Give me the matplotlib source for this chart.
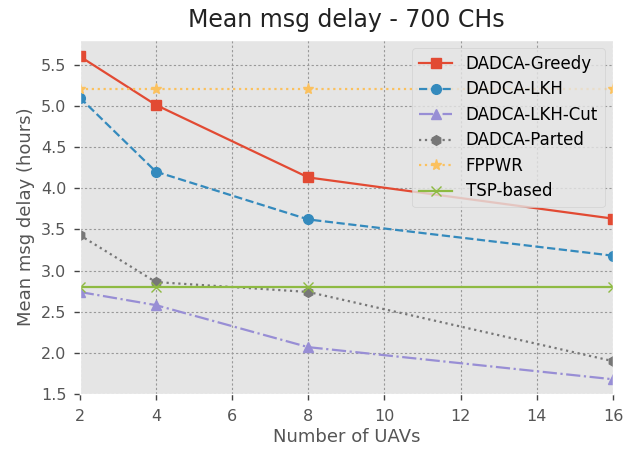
import numpy as np
import matplotlib
matplotlib.use('Agg')
import matplotlib.pyplot as plt

plt.style.use('ggplot')

# UAV counts
uavs = [2, 4, 8, 16]

# mean msg delay (hours)
greedy = [5.6, 5.01, 4.13, 3.63]
lkh = [5.1, 4.2, 3.62, 3.18]
lkh_cut = [2.74, 2.58, 2.07, 1.68]
parted = [3.43, 2.86, 2.74, 1.9]
fppwr = [5.2, 5.2, 5.2, 5.2]
tsp = [2.8, 2.8, 2.8, 2.8]

fig, ax = plt.subplots(figsize=(6.23, 4.53), dpi=100)

ax.plot(uavs, greedy, color='#E24A33', linestyle='-', marker='s', lw=1.6, ms=7, label='DADCA-Greedy')
ax.plot(uavs, lkh, color='#348ABD', linestyle='--', marker='o', lw=1.6, ms=7, label='DADCA-LKH')
ax.plot(uavs, lkh_cut, color='#988ED5', linestyle='-.', marker='^', lw=1.6, ms=7, label='DADCA-LKH-Cut')
ax.plot(uavs, parted, color='#777777', linestyle=':', marker='h', lw=1.6, ms=7, label='DADCA-Parted')
ax.plot(uavs, fppwr, color='#FBC15E', linestyle=':', marker='*', lw=1.6, ms=8, label='FPPWR')
ax.plot(uavs, tsp, color='#8EBA42', linestyle='-', marker='x', lw=1.6, ms=7, label='TSP-based')

ax.set_xlim(2, 16)
ax.set_ylim(1.5, 5.8)
ax.set_xticks(np.arange(2, 17, 2))
ax.grid(True, color='#999999', linestyle=(0, (2, 2)), linewidth=0.8)

ax.set_title('Mean msg delay - 700 CHs', fontsize=17, pad=9, color='#222222')
ax.set_xlabel('Number of UAVs', fontsize=13, labelpad=3)
ax.set_ylabel('Mean msg delay (hours)', fontsize=13)
ax.tick_params(labelsize=11.5, length=4.5, width=1, color='#444444', direction='out')
ax.tick_params(axis='x', pad=6)
ax.tick_params(axis='y', pad=5)
ax.legend(loc='upper right', fontsize=12, labelspacing=0.45)

fig.subplots_adjust(left=0.128, right=0.984, top=0.912, bottom=0.13)
fig.savefig('out.png', dpi=100)
